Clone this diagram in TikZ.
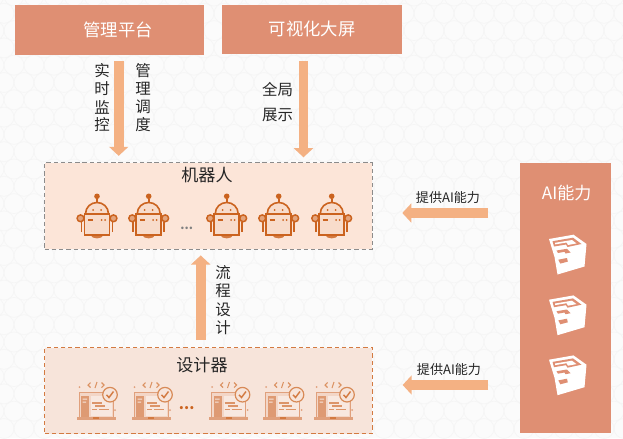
\documentclass[tikz,border=0pt]{standalone}
\usepackage{fontspec}
\setmainfont{Noto Sans CJK SC}
\usetikzlibrary{arrows.meta}
\definecolor{salmon}{HTML}{DF8F73}
\definecolor{flow}{HTML}{F4B183}
\definecolor{robotbg}{HTML}{FCE5D8}
\definecolor{designbg}{HTML}{F7E4DA}
\definecolor{robotline}{HTML}{CB631F}
\definecolor{lapline}{HTML}{E0A07C}
\definecolor{inktext}{HTML}{262626}
\definecolor{pagebg}{HTML}{FBFBFB}
\definecolor{pagehex}{HTML}{F5F5F5}
\tikzset{
  x=0.75pt,y=-0.75pt,
  topbox/.style={draw=none,fill=salmon,text=white,font=\fontsize{13pt}{15pt}\selectfont,inner sep=0pt,anchor=north west},
  panel/.style={inner sep=0pt,anchor=north west,dash pattern=on 3.2pt off 2.2pt},
  flowarrow/.style={draw=flow,line width=7.2pt,-{Triangle[width=14.2pt,length=6.8pt]}},
  vlabel/.style={text=inktext,font=\fontsize{11.6pt}{13.6pt}\selectfont,align=center,inner sep=0pt},
  sidelabel/.style={text=inktext,font=\fontsize{9.8pt}{11pt}\selectfont,inner sep=0pt},
  paneltitle/.style={text=inktext,font=\fontsize{12.8pt}{15pt}\selectfont,inner sep=0pt},
  robot/.pic={
    \draw[robotline,line width=1.1pt,fill=robotline!50!robotbg] (-16.5,4.3) circle[radius=3.4];
    \draw[robotline,line width=1.1pt,fill=robotline!50!robotbg] (16.5,4.3) circle[radius=3.4];
    \draw[robotline,line width=1.1pt] (-15.5,8)--(-15.5,18) (15.5,8)--(15.5,18);
    \fill[robotline!85!white] (-6.5,21) .. controls (-5,25.5) and (5,25.5) .. (6.5,21) -- cycle;
    \draw[robotline,line width=1.2pt,fill=robotbg!85!white!90!robotline] (-11.5,0) .. controls (-11.5,-7) and (-6,-11.5) .. (0,-11.5) .. controls (6,-11.5) and (11.5,-7) .. (11.5,0) -- cycle;
    \draw[robotline,line width=1.2pt,fill=robotbg!85!white!90!robotline] (-12.5,0) rectangle (12.5,21);
    \draw[robotline,line width=1.2pt] (0,-11.5)--(0,-15);
    \fill[robotline] (0,-17.7) circle[radius=2.8];
    \fill[robotline] (-4,-4) circle[radius=1] (4,-4) circle[radius=1] (4.5,6) circle[radius=1] (8,6) circle[radius=1];
    \draw[robotline,line width=1.2pt] (-9,6)--(-4,6);
  },
  laptop/.pic={
    \fill[designbg!80!lapline] (-17,0) rectangle (17,25);
    \fill[designbg!85!white] (-5,4) rectangle (16,24);
    \draw[lapline,line width=0.7pt,fill=none] (-17,0) rectangle (17,25);
    \fill[lapline!90!robotline] (-15,4) rectangle (-7,24.5);
    \fill[designbg] (-13.5,6.5) rectangle (-9,7.5) (-13.5,9.5) rectangle (-10,10.5);
    \fill[lapline] (-19.5,25) rectangle (19.5,28);
    \fill[robotline!85!white] (-3,25) rectangle (3,27);
    \draw[lapline!80!robotline,line width=0.8pt] (-4,11)--(6,11) (-1,14)--(9,14) (-4,17.5)--(1,17.5) (3,17.5)--(13,17.5);
    \draw[robotline!75!white,line width=0.9pt,fill=designbg] (14,2.7) circle[radius=7.3];
    \draw[robotline!85!white,line width=1.1pt] (10.5,2.8)--(13,5.5)--(17.5,-0.5);
    \draw[robotline!70!white,line width=0.8pt] (-5.5,-9.5)--(-8,-7)--(-5.5,-4.5) (-1,-4)--(1,-10) (5.5,-9.5)--(8,-7)--(5.5,-4.5);
    \fill[lapline] (-16.5,-5) circle[radius=1] (19,18) circle[radius=1];
  },
  skcube/.pic={
    \fill[white] (-1,0) -- (23.5,-4.3) -- (36.5,5) -- (34.5,27.5) -- (7.5,35.5) -- (4.5,18) -- cycle;
    \fill[salmon] (2.5,2.2) -- (23,-1.3) -- (31.5,5) -- (17.5,8) -- (16,5.5) -- (4,7.5) -- cycle;
    \fill[white] (5,3.8) -- (22,1) -- (26.5,4.4) -- (18,6) -- (16.5,3.5) -- (5.3,5.4) -- cycle;
    \fill[salmon] (6.5,11.5) -- (17,9.8) -- (20.5,13.5) -- (15.5,14.5) -- (14.5,12.8) -- (8,14) -- cycle;
    \fill[salmon] (8.3,20.7) -- (17,19) -- (17.8,22.6) -- (10.3,24.6) -- cycle;
  }
}
\begin{document}
\begin{tikzpicture}
\useasboundingbox (0,0) rectangle (623,438);
\fill[pagebg] (0,0) rectangle (623,438);
\foreach \row in {0,...,25}{
  \foreach \col in {0,...,32}{
    \pgfmathsetmacro{\hx}{\col*20+mod(\row,2)*10-6}
    \pgfmathsetmacro{\hy}{\row*17.3-4}
    \draw[pagehex,line width=0.5pt] (\hx,\hy) circle[radius=10];
  }
}

\node[topbox,minimum width=141.4pt,minimum height=37.5pt] (mgmt) at (15,5) {\hspace*{12.9pt}管理平台};
\node[topbox,minimum width=135pt,minimum height=36.8pt] (screen) at (222,4.5) {可视化大屏};

\node[panel,draw=black!45,line width=0.6pt,fill=robotbg,minimum width=245.4pt,minimum height=64.5pt] (robots) at (44.3,162.5) {};
\node[panel,draw=robotline!85!white,line width=0.85pt,fill=designbg,minimum width=245.4pt,minimum height=64.5pt] (designer) at (44.3,347) {};
\node[inner sep=0pt,anchor=north west,fill=salmon,minimum width=67.8pt,minimum height=203pt] (ai) at (520.2,162.3) {};

\node[paneltitle] (robottitle) at (207,175.5) {机器人};
\node[paneltitle] (designtitle) at (202,365) {设计器};
\node[text=white,font=\fontsize{12.8pt}{15pt}\selectfont,inner sep=0pt] (aititle) at (566.7,193) {AI能力};

% robots
\foreach \cx/\nm in {97/a,148.7/b,226.7/c,278.7/d,331.7/e}
  \pic (r\nm) at (\cx,214) {robot};
\node[text=black!50,font=\bfseries\fontsize{9pt}{9pt}\selectfont,inner sep=0pt] (robotdots) at (186.7,228) {...};

% laptops
\foreach \cx/\nm in {96/a,151/b,228.5/c,282.5/d,333/e}
  \pic (l\nm) at (\cx,392) {laptop};
\node[text=robotline,font=\bfseries\fontsize{11pt}{11pt}\selectfont,inner sep=0pt] (designdots) at (186.7,408) {...};

% SketchUp cubes
\foreach \cy/\nm in {239/a,299.7/b,359.7/c}
  \pic (s\nm) at (550,\cy) {skcube};

% connectors
\coordinate (ax1) at (118.7,0);
\coordinate (ax2) at (303.5,0);
\coordinate (ax3) at (200.7,0);
\coordinate (ay1) at (0,213);
\coordinate (ay2) at (0,385);
\coordinate (tail1) at (488,213);
\coordinate (tail2) at (488,385);
\draw[flowarrow,shorten >=5pt,shorten <=4pt] (mgmt.south -| ax1) -- (robots.north -| ax1);
\draw[flowarrow,shorten >=3.9pt,shorten <=5pt] (screen.south -| ax2) -- (robots.north -| ax2);
\draw[flowarrow,shorten >=4.6pt,shorten <=5.2pt] (designer.north -| ax3) -- (robots.south -| ax3);
\draw[flowarrow,shorten >=22.5pt] (tail1) -- (robots.east |- ay1);
\draw[flowarrow,shorten >=22.5pt] (tail2) -- (designer.east |- ay2);

% labels
\foreach \t/\py/\nm in {实/71/a,时/89/b,监/107/c,控/125/d}
  \node[vlabel] (lbl1\nm) at (102,\py) {\t};
\foreach \t/\py/\nm in {管/71/a,理/89/b,调/107/c,度/125/d}
  \node[vlabel] (lbl2\nm) at (143,\py) {\t};
\node[vlabel] (lbl3a) at (277.5,90) {全局};
\node[vlabel] (lbl3b) at (277.5,115) {展示};
\foreach \t/\py/\nm in {流/273/a,程/291/b,设/310/c,计/328/d}
  \node[vlabel] (lbl4\nm) at (223,\py) {\t};
\node[sidelabel] (side1) at (448,198) {提供AI能力};
\node[sidelabel] (side2) at (449,370) {提供AI能力};
\end{tikzpicture}
\end{document}
